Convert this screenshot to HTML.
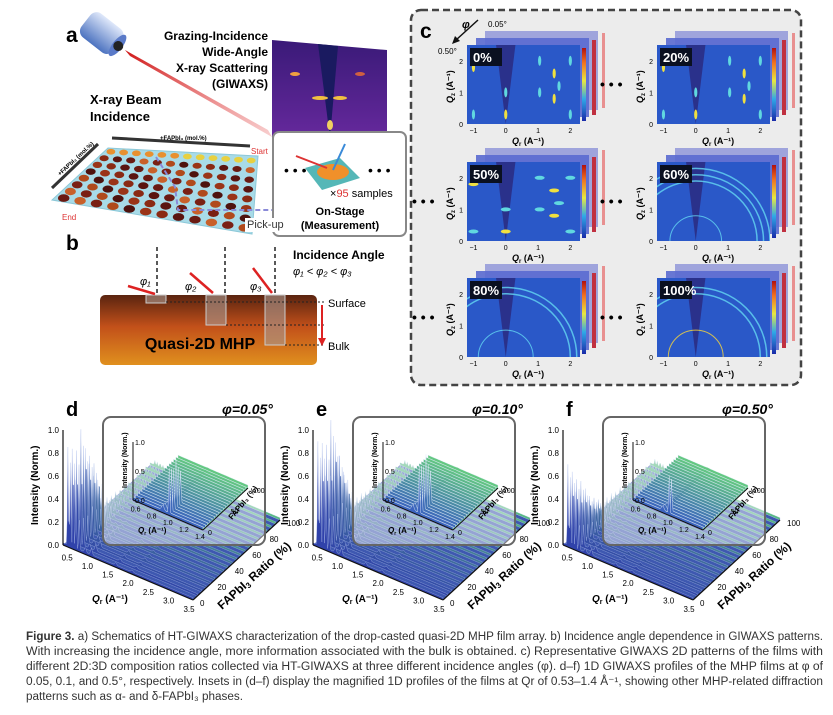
<!DOCTYPE html>
<html><head><meta charset="utf-8"><style>
body{margin:0;background:#fff}
svg{display:block;font-family:"Liberation Sans",Arial,sans-serif}
</style></head><body>
<svg id="fig" width="833" height="715" viewBox="0 0 833 715">
<defs id="defs">
<linearGradient id="mhp" x1="0" y1="0" x2="0" y2="1"><stop offset="0" stop-color="#5a2410"/><stop offset="0.45" stop-color="#c2501a"/><stop offset="1" stop-color="#e0901e"/></linearGradient>
<linearGradient id="beam" x1="0" y1="0" x2="1" y2="1"><stop offset="0" stop-color="#d01818"/><stop offset="1" stop-color="#e86060" stop-opacity="0.3"/></linearGradient>
<linearGradient id="cyl" x1="0" y1="0" x2="0" y2="1"><stop offset="0" stop-color="#dfe8fa"/><stop offset="1" stop-color="#4c73c0"/></linearGradient>
<linearGradient id="jet" x1="0" y1="1" x2="0" y2="0"><stop offset="0" stop-color="#1a2aa8"/><stop offset="0.3" stop-color="#2fa8e8"/><stop offset="0.55" stop-color="#e8e840"/><stop offset="0.8" stop-color="#f07020"/><stop offset="1" stop-color="#b01010"/></linearGradient>
<linearGradient id="gi" x1="0" y1="0" x2="0" y2="1"><stop offset="0" stop-color="#3a1a78"/><stop offset="1" stop-color="#6a2aa0"/></linearGradient>
</defs>

<!-- Panel a -->
<g>
<text x="66" y="42" font-size="21" font-weight="bold">a</text>
<g transform="translate(108,38) rotate(38)">
<rect x="-28" y="-15" width="40" height="30" rx="8" fill="url(#cyl)"/>
<ellipse cx="12" cy="0" rx="5" ry="13" fill="#5a7ac8"/>
<circle cx="13" cy="0" r="5" fill="#222"/>
</g>
<polygon points="125,50 130,56 272,137 268,130" fill="url(#beam)"/>
<text x="90" y="104" font-size="13" font-weight="bold">X-ray Beam</text>
<text x="90" y="121" font-size="13" font-weight="bold">Incidence</text>
<g font-size="12" font-weight="bold" text-anchor="end">
<text x="268" y="40">Grazing-Incidence</text><text x="268" y="56">Wide-Angle</text><text x="268" y="72">X-ray Scattering</text><text x="268" y="88">(GIWAXS)</text></g>
<g>
<polygon points="272,40 387,50 387,148 272,138" fill="url(#gi)"/>
<polygon points="318,44 338,46 330,138" fill="#1a1a60"/>
<ellipse cx="320" cy="98" rx="8" ry="2" fill="#f0c040"/><ellipse cx="340" cy="98" rx="7" ry="2" fill="#f0c040"/>
<ellipse cx="295" cy="74" rx="5" ry="2" fill="#f0a040"/><ellipse cx="360" cy="74" rx="5" ry="2" fill="#d06040"/>
<ellipse cx="330" cy="125" rx="3" ry="5" fill="#f0d060"/>
</g>
<polygon points="108,148 258,156 252,234 52,200" fill="#a8dbe8" stroke="#8cc8d8"/>
<g id="dots"></g>
<line x1="52" y1="188" x2="98" y2="144" stroke="#333" stroke-width="3"/>
<line x1="112" y1="138" x2="250" y2="146" stroke="#333" stroke-width="3"/>
<text x="160" y="140" font-size="6" font-weight="bold">+FAPbI₃ (mol.%)</text>
<text x="60" y="176" font-size="6" font-weight="bold" transform="rotate(-43 60 176)">+FAPbI₃ (mol.%)</text>
<text x="251" y="154" font-size="8" fill="#d33">Start</text>
<text x="62" y="220" font-size="8" fill="#d33">End</text>
<polyline points="156,157 175,187 178,210 275,210 300,188" fill="none" stroke="#8a8ad8" stroke-width="2" stroke-dasharray="5,3"/>
<rect x="273" y="132" width="133" height="104" rx="6" fill="#fff" stroke="#888" stroke-width="2"/>
<rect x="245" y="218" width="38" height="14" fill="#fff"/>
<text x="247" y="228" font-size="11" fill="#333">Pick-up</text>
<text x="284" y="175" font-size="14">• • •</text><text x="368" y="175" font-size="14">• • •</text>
<polygon points="305,168 340,158 360,178 322,190" fill="#55b7b7"/>
<ellipse cx="333" cy="172" rx="16" ry="8" fill="#f0902a"/>
<line x1="296" y1="156" x2="327" y2="168" stroke="#d33" stroke-width="2"/>
<line x1="333" y1="170" x2="345" y2="144" stroke="#3a8ad8" stroke-width="2"/>
<text x="330" y="197" font-size="11">×<tspan fill="#d33">95</tspan> samples</text>
<text x="340" y="215" font-size="11" font-weight="bold" text-anchor="middle">On-Stage</text>
<text x="340" y="229" font-size="11" font-weight="bold" text-anchor="middle">(Measurement)</text>
</g>

<!-- Panel b -->
<g>
<text x="66" y="250" font-size="21" font-weight="bold">b</text>
<rect x="100" y="295" width="217" height="70" rx="5" fill="url(#mhp)"/>
<text x="200" y="349" font-size="16" font-weight="bold" text-anchor="middle">Quasi-2D MHP</text>
<g stroke="#222" stroke-width="1.5" stroke-dasharray="4,3"><line x1="157" y1="247" x2="157" y2="293"/><line x1="225" y1="247" x2="225" y2="293"/><line x1="275" y1="247" x2="275" y2="293"/></g>
<g fill="#a89890" fill-opacity="0.6" stroke="#ccc"><rect x="146" y="295" width="20" height="8"/><rect x="206" y="295" width="20" height="30"/><rect x="265" y="295" width="20" height="50"/></g>
<g stroke="#d22" stroke-width="2.5"><line x1="128" y1="286" x2="155" y2="294"/><line x1="190" y1="273" x2="213" y2="293"/><line x1="253" y1="268" x2="272" y2="293"/></g>
<g font-size="11" font-style="italic"><text x="140" y="285">φ₁</text><text x="185" y="290">φ₂</text><text x="250" y="290">φ₃</text></g>
<g stroke="#222" stroke-dasharray="2,2"><line x1="166" y1="302" x2="325" y2="302"/><line x1="226" y1="325" x2="325" y2="325"/><line x1="285" y1="345" x2="325" y2="345"/></g>
<line x1="322" y1="305" x2="322" y2="340" stroke="#d22" stroke-width="2"/><polygon points="318,338 326,338 322,346" fill="#d22"/>
<text x="328" y="307" font-size="11">Surface</text><text x="328" y="350" font-size="11">Bulk</text>
<text x="293" y="259" font-size="12" font-weight="bold">Incidence Angle</text>
<text x="293" y="275" font-size="11" font-style="italic">φ₁ &lt; φ₂ &lt; φ₃</text>
</g>

<!-- Panel c -->
<g>
<rect x="411" y="10" width="390" height="375" rx="10" fill="#ececec" stroke="#444" stroke-width="2.5" stroke-dasharray="7,4"/>
<text x="420" y="38" font-size="21" font-weight="bold">c</text>
<line x1="478" y1="20" x2="456" y2="40" stroke="#111" stroke-width="1.5"/><polygon points="452,44 455,36 460,41" fill="#111"/>
<text x="462" y="28" font-size="11" font-weight="bold" font-style="italic">φ</text>
<text x="488" y="27" font-size="8">0.05°</text><text x="438" y="54" font-size="8">0.50°</text>
<g id="cpanels"></g>
</g>

<g id="waterfalls"></g>

<!-- Caption -->
<g font-size="11.5" fill="#333">
<text x="26" y="640" textLength="797" lengthAdjust="spacingAndGlyphs"><tspan font-weight="bold">Figure 3.</tspan> a) Schematics of HT-GIWAXS characterization of the drop-casted quasi-2D MHP film array. b) Incidence angle dependence in GIWAXS patterns.</text>
<text x="26" y="655" textLength="797" lengthAdjust="spacingAndGlyphs">With increasing the incidence angle, more information associated with the bulk is obtained. c) Representative GIWAXS 2D patterns of the films with</text>
<text x="26" y="670" textLength="797" lengthAdjust="spacingAndGlyphs">different 2D:3D composition ratios collected via HT-GIWAXS at three different incidence angles (φ). d–f) 1D GIWAXS profiles of the MHP films at φ of</text>
<text x="26" y="685" textLength="797" lengthAdjust="spacingAndGlyphs">0.05, 0.1, and 0.5°, respectively. Insets in (d–f) display the magnified 1D profiles of the films at Qr of 0.53–1.4 Å⁻¹, showing other MHP-related diffraction</text>
<text x="26" y="700" textLength="217" lengthAdjust="spacingAndGlyphs">patterns such as α- and δ-FAPbI₃ phases.</text>
</g>
</svg>
<script>
// ===== Data =====
const ratioCats = [0,5,10,15,20,25,30,35,40,45,50,55,60,65,70,75,80,85,90,95,100];
const peakQ = [0.42,0.48,0.55,0.62,0.70,0.85,1.0,1.6,2.0];
const peakShape = [1.0,0.85,0.9,0.7,0.3,0.15,0.2,0.08,0.06];
const mainPeakD = [0.85,0.8,0.75,0.9,0.7,0.6,0.5,0.2,0.12,0.1,0.08,0.08,0.06,0.06,0.05,0.05,0.05,0.04,0.04,0.04,0.04];
const mainPeakE = [0.9,0.85,0.8,1.0,0.75,0.6,0.4,0.2,0.12,0.1,0.1,0.08,0.07,0.06,0.06,0.05,0.05,0.05,0.04,0.04,0.04];
const mainPeakF = [0.7,0.6,0.5,0.45,0.35,0.25,0.2,0.15,0.12,0.1,0.1,0.08,0.08,0.07,0.06,0.06,0.05,0.05,0.05,0.05,0.05];
const intensityTicks = ["0.0","0.2","0.4","0.6","0.8","1.0"];
const qrTicks = ["0.5","1.0","1.5","2.0","2.5","3.0","3.5"];
const ratioTicks = ["0","20","40","60","80","100"];
const insetQTicks = ["0.6","0.8","1.0","1.2","1.4"];
const panelLabels = ["d","e","f"];
const phiLabels = ["φ=0.05°","φ=0.10°","φ=0.50°"];
const compLabels = ["0%","20%","50%","60%","80%","100%"];
const NS="http://www.w3.org/2000/svg";
function mk(tag,attrs,parent){const e=document.createElementNS(NS,tag);for(const k in attrs)e.setAttribute(k,attrs[k]);if(parent)parent.appendChild(e);return e;}

// plate dots
(function(){
const g=document.getElementById('dots');
const P=[[108,148],[258,156],[252,234],[52,200]];
const cols=["#5a1410","#7a2014","#9a3418","#6a1a12","#b04a1c","#8a2a14","#c8602a","#4e120e"];
for(let i=0;i<8;i++)for(let j=0;j<12;j++){
const u=(j+0.5)/12,v=(i+0.5)/8;
const x=(1-v)*((1-u)*P[0][0]+u*P[1][0])+v*((1-u)*P[3][0]+u*P[2][0]);
const y=(1-v)*((1-u)*P[0][1]+u*P[1][1])+v*((1-u)*P[3][1]+u*P[2][1]);
const c=i==0?(j<6?"#e89030":"#e8d040"):cols[(i*5+j*3)%8];
const d=mk('ellipse',{cx:x.toFixed(1),cy:y.toFixed(1),rx:4.3+v*1.5,ry:2.8+v*1.1,fill:c},g);


}})();

// panel c sub-plots
(function(){
const g=document.getElementById('cpanels');
const defs=document.getElementById('defs');
const xs=[467,657],ys=[45,162,278];
compLabels.forEach((lab,k)=>{
const x0=xs[k%2],y0=ys[Math.floor(k/2)],w=113,h=79;
const cp=mk('clipPath',{id:'cp'+k},defs);mk('rect',{x:x0,y:y0,width:w,height:h},cp);
const sg=mk('g',{},g);


mk('rect',{x:x0+18,y:y0-14,width:w,height:h,fill:'#8c92d8',opacity:0.8},sg);
mk('rect',{x:x0+w+22,y:y0-12,width:3,height:h-4,fill:'#e89090'},sg);
mk('rect',{x:x0+9,y:y0-7,width:w,height:h,fill:'#5a6ad0',opacity:0.9},sg);
mk('rect',{x:x0+w+12,y:y0-5,width:4,height:h-4,fill:'#c03040'},sg);
mk('rect',{x:x0,y:y0,width:w,height:h,fill:'#2a58c8'},sg);
mk('rect',{x:x0+w+2,y:y0+3,width:4,height:h-6,fill:'url(#jet)'},sg);
const xq=q=>x0+(q+1.2)/3.5*w, yq=z=>y0+h-z/2.5*h;
const inner=mk('g',{'clip-path':`url(#cp${k})`},sg);
mk('polygon',{points:`${xq(-0.3)},${y0} ${xq(0.3)},${y0} ${xq(0)},${y0+h}`,fill:'#2a2a80',opacity:0.85},inner);
if(k<3){[[-1,1.8],[1.05,2],[1.05,1],[1.5,1.6],[2,2],[2,0.3],[0,0.3],[0,1],[-1,0.3],[1.5,0.8],[1.65,1.2]].forEach((p,i)=>mk('ellipse',{cx:xq(p[0]),cy:yq(p[1]),rx:k==2?5:1.6,ry:k==2?2:5,fill:i%3==0?'#f0e040':'#60d8e0'},inner));}
else{const rs=k==3?[0.8,1.9,2.1,2.3]:[0.85,2.0,2.2];rs.forEach((r,i)=>mk('path',{d:`M${xq(-r)} ${yq(0)} A${r/3.5*w} ${r/2.5*h} 0 0 1 ${xq(r)} ${yq(0)}`,fill:'none',stroke:i==0&&k==5?'#f0d040':'#60d0f0','stroke-width':i==0?1:1.5,opacity:0.85},inner));}
mk('rect',{x:x0+3,y:y0+3,width:32,height:18,fill:'#0a1020'},sg);
const t=mk('text',{x:x0+6,y:y0+17,'font-size':13,'font-weight':'bold',fill:'#fff'},sg);t.textContent=lab;
["-1","0","1","2"].forEach(s=>{const tt=mk('text',{x:xq(+s),y:y0+h+9,'font-size':7,'text-anchor':'middle'},sg);tt.textContent=s.replace('-','−');});
["0","1","2"].forEach(s=>{const tt=mk('text',{x:x0-4,y:yq(+s)+3,'font-size':7,'text-anchor':'end'},sg);tt.textContent=s;});
const ax=mk('text',{x:x0+45,y:y0+h+20,'font-size':9,'font-weight':'bold'},sg);ax.innerHTML='<tspan font-style="italic">Q</tspan><tspan font-size="6" dy="2">r</tspan><tspan dy="-2"> (A⁻¹)</tspan>';
const ay=mk('text',{x:x0-14,y:y0+58,'font-size':9,'font-weight':'bold',transform:`rotate(-90 ${x0-14} ${y0+58})`},sg);ay.innerHTML='<tspan font-style="italic">Q</tspan><tspan font-size="6" dy="2">z</tspan><tspan dy="-2"> (A⁻¹)</tspan>';
if(k%2==1||k>1){const dt=mk('text',{x:x0-(k%2?57:55),y:y0+44,'font-size':14,'font-weight':'bold'},sg);dt.textContent='• • •';}
});})();

// waterfalls d, e, f
(function(){
const root=document.getElementById('waterfalls');
const sets=[mainPeakD,mainPeakE,mainPeakF];
sets.forEach((mainPeak,pi)=>{
const ox=pi*250;
const g=mk('g',{},root);


const O=[63+ox,545],VQ=[130,55],VR=[87,-80],HS=115;
const pt=(q,r,I)=>[O[0]+(q-0.3)/3.2*VQ[0]+r/100*VR[0], O[1]+(q-0.3)/3.2*VQ[1]+r/100*VR[1]-I*HS];
const lt=mk('text',{x:66+ox,y:416,'font-size':20,'font-weight':'bold'},g);lt.textContent=panelLabels[pi];
const ph=mk('text',{x:222+ox,y:414,'font-size':14,'font-weight':'bold','font-style':'italic'},g);ph.textContent=phiLabels[pi];
// surface base
const s0=pt(0.3,0,0),s1=pt(3.5,0,0),s2=pt(3.5,100,0),s3=pt(0.3,100,0);
mk('polygon',{points:`${s0} ${s1} ${s2} ${s3}`,fill:'#3e58b0'},g);
for(let k=ratioCats.length-1;k>=0;k--){
const r=ratioCats[k];let d='';
const p0=pt(0.3,r,0);d+=`M${p0[0].toFixed(1)} ${p0[1].toFixed(1)}`;
for(let q=0.3;q<=3.5001;q+=0.02){
let I=0.02;
peakQ.forEach((pq,j)=>{const s=j<5?0.012:0.02;const a=(j<5?mainPeak[k]:mainPeak[k]*0.3+0.03)*peakShape[j];I+=a*Math.exp(-((q-pq)**2)/(2*s*s));});
const p=pt(q,r,Math.min(I,1));d+=` L${p[0].toFixed(1)} ${p[1].toFixed(1)}`;}
const pe=pt(3.5,r,0);d+=` L${pe[0].toFixed(1)} ${pe[1].toFixed(1)} Z`;
const f=r/100;
const col=`rgb(${Math.round(48+f*40)},${Math.round(66+f*120)},${Math.round(170-f*40)})`;
const tr=mk('path',{d,fill:col,stroke:'#b8c8f0','stroke-width':0.3},g);


}
const pc=pt(3.5,0,0),pb=pt(3.5,100,0),pt1=pt(0.3,0,1);
mk('line',{x1:O[0],y1:O[1],x2:pt1[0],y2:pt1[1],stroke:'#111','stroke-width':1.2},g);
mk('line',{x1:O[0],y1:O[1],x2:pc[0],y2:pc[1],stroke:'#111','stroke-width':1.2},g);
mk('line',{x1:pc[0],y1:pc[1],x2:pb[0],y2:pb[1],stroke:'#111','stroke-width':1.2},g);
intensityTicks.forEach(s=>{const p=pt(0.3,0,+s);const t=mk('text',{x:p[0]-4,y:p[1]+3,'font-size':8,'text-anchor':'end'},g);t.textContent=s;});
qrTicks.forEach(s=>{const p=pt(+s,0,0);const t=mk('text',{x:p[0]-4,y:p[1]+12,'font-size':8,'text-anchor':'middle'},g);t.textContent=s;});
ratioTicks.forEach(s=>{const p=pt(3.5,+s,0);const t=mk('text',{x:p[0]+7,y:p[1]+6,'font-size':8},g);t.textContent=s;});
const yl=mk('text',{x:38+ox,y:525,'font-size':10,'font-weight':'bold',transform:`rotate(-90 ${38+ox} 525)`},g);yl.textContent='Intensity (Norm.)';
const xl=mk('text',{x:92+ox,y:602,'font-size':10,'font-weight':'bold'},g);xl.innerHTML='<tspan font-style="italic">Q</tspan><tspan font-size="7" dy="2">r</tspan><tspan dy="-2"> (A⁻¹)</tspan>';
const rl=mk('text',{x:222+ox,y:610,'font-size':12,'font-weight':'bold',transform:`rotate(-42 ${222+ox} 610)`},g);rl.innerHTML='FAPbI<tspan font-size="8" dy="2">3</tspan><tspan dy="-2"> Ratio (%)</tspan>';
// inset
const ib=mk('rect',{x:103+ox,y:417,width:162,height:128,rx:8,fill:'#ffffff','fill-opacity':0.45,stroke:'#666','stroke-width':2},g);


const IO=[133+ox,500],IQ=[70,30],IR=[45,-42],IH=58;
const ip=(q,r,I)=>[IO[0]+(q-0.53)/0.87*IQ[0]+r/100*IR[0],IO[1]+(q-0.53)/0.87*IQ[1]+r/100*IR[1]-I*IH];
const b0=ip(0.53,0,0),b1=ip(1.4,0,0),b2=ip(1.4,100,0),b3=ip(0.53,100,0);
mk('polygon',{points:`${b0} ${b1} ${b2} ${b3}`,fill:'#5cc090'},g);
for(let k=ratioCats.length-1;k>=0;k--){
const r=ratioCats[k];let d='';
for(let q=0.53;q<=1.4001;q+=0.01){
let I=0.05+mainPeak[k]*0.1*Math.exp(-((q-0.9)**2)/0.0004)+(mainPeak[k]>0.5?mainPeak[k]*0.9*Math.exp(-((q-0.98)**2)/0.00008):0);
const p=ip(q,r,Math.min(I,1));d+=(d?' L':'M')+p[0].toFixed(1)+' '+p[1].toFixed(1);}
const p1=ip(1.4,r,0),p2=ip(0.53,r,0);d+=` L${p1[0].toFixed(1)} ${p1[1].toFixed(1)} L${p2[0].toFixed(1)} ${p2[1].toFixed(1)} Z`;
const f=r/100;
const it=mk('path',{d,fill:`rgb(${Math.round(60+f*40)},${Math.round(100+f*100)},${Math.round(190-f*60)})`,stroke:'#e8f0ff','stroke-width':0.4},g);


}
const ic=ip(1.4,0,0),ibk=ip(1.4,100,0),itp=ip(0.53,0,1);
mk('line',{x1:IO[0],y1:IO[1],x2:itp[0],y2:itp[1],stroke:'#111'},g);
mk('line',{x1:IO[0],y1:IO[1],x2:ic[0],y2:ic[1],stroke:'#111'},g);
mk('line',{x1:ic[0],y1:ic[1],x2:ibk[0],y2:ibk[1],stroke:'#111'},g);
["0.0","0.5","1.0"].forEach(s=>{const p=ip(0.53,0,+s);const t=mk('text',{x:p[0]+2,y:p[1]+3,'font-size':7},g);t.textContent=s;});
insetQTicks.forEach(s=>{const p=ip(+s,0,0);const t=mk('text',{x:p[0]-3,y:p[1]+9,'font-size':7,'text-anchor':'middle'},g);t.textContent=s;});
["0","50","100"].forEach(s=>{const p=ip(1.4,+s,0);const t=mk('text',{x:p[0]+5,y:p[1]+5,'font-size':7},g);t.textContent=s;});
const iyl=mk('text',{x:127+ox,y:488,'font-size':7,'font-weight':'bold',transform:`rotate(-90 ${127+ox} 488)`},g);iyl.textContent='Intensity (Norm.)';
const ixl=mk('text',{x:138+ox,y:533,'font-size':8,'font-weight':'bold'},g);ixl.innerHTML='<tspan font-style="italic">Q</tspan><tspan font-size="5" dy="2">r</tspan><tspan dy="-2"> (A⁻¹)</tspan>';
const irl=mk('text',{x:232+ox,y:520,'font-size':8,'font-weight':'bold',transform:`rotate(-50 ${232+ox} 520)`},g);irl.textContent='FAPbI₃ (%)';
});})();
</script>
</body></html>
